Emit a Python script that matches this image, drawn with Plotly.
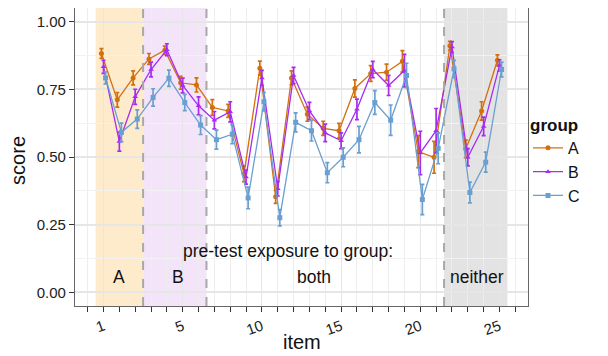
import plotly.graph_objects as go

# ---- data ----
item_pos = list(range(26))
tick_pos = [0, 5, 10, 15, 20, 25]
tick_labels = ["1", "5", "10", "15", "20", "25"]

score_A = [0.882, 0.711, 0.792, 0.862, 0.894, 0.774, 0.766, 0.683, 0.670, 0.438, 0.828, 0.353, 0.792,
           0.658, 0.606, 0.597, 0.753, 0.808, 0.813, 0.853, 0.520, 0.499, 0.911, 0.530, 0.670, 0.857]
score_B = [0.833, 0.557, 0.722, 0.823, 0.896, 0.764, 0.689, 0.636, 0.667, 0.426, 0.792, 0.383, 0.801,
           0.670, 0.589, 0.560, 0.676, 0.823, 0.764, 0.819, 0.515, 0.597, 0.906, 0.499, 0.613, 0.838]
score_C = [0.792, 0.591, 0.640, 0.720, 0.791, 0.701, 0.618, 0.564, 0.584, 0.349, 0.704, 0.276, 0.628,
           0.597, 0.442, 0.499, 0.564, 0.701, 0.636, 0.801, 0.343, 0.532, 0.825, 0.369, 0.481, 0.823]

err_A = [0.018, 0.027, 0.026, 0.020, 0.015, 0.024, 0.026, 0.029, 0.024, 0.029, 0.026, 0.024, 0.026,
         0.026, 0.026, 0.027, 0.032, 0.029, 0.030, 0.040, 0.059, 0.059, 0.016, 0.032, 0.034, 0.020]
err_B = [0.024, 0.035, 0.028, 0.027, 0.022, 0.027, 0.033, 0.032, 0.037, 0.026, 0.028, 0.027, 0.030,
         0.032, 0.032, 0.029, 0.038, 0.030, 0.037, 0.060, 0.080, 0.082, 0.020, 0.032, 0.034, 0.021]
err_C = [0.022, 0.034, 0.034, 0.032, 0.030, 0.030, 0.035, 0.035, 0.035, 0.040, 0.034, 0.030, 0.035,
         0.038, 0.037, 0.035, 0.049, 0.044, 0.056, 0.045, 0.056, 0.057, 0.032, 0.038, 0.037, 0.027]

groups = ["A", "B", "C"]
region_start = [-0.5, 2.5, 21.5]
region_end = [2.5, 6.5, 25.5]
region_colors = ["#FEEBCB", "#F3E4FA", "#E3E3E3"]
divider_pos = [2.5, 6.5, 21.5]

header_text = "pre-test exposure to group:"
header_pos = (11.63, 0.152)
label_text = ["A", "B", "both", "neither"]
label_x = [0.95, 4.7, 13.3, 23.55]
label_y = 0.058

# ---- style ----
colors = {"A": "#D2700E", "B": "#A62CF0", "C": "#6A9FD2"}
symbols = {"A": "circle", "B": "triangle-up", "C": "square"}
dodge = {"A": -0.13, "B": 0.0, "C": 0.13}
FONT = "Liberation Sans, Arial, Helvetica, sans-serif"

fig = go.Figure()

scores = {"A": score_A, "B": score_B, "C": score_C}
errs = {"A": err_A, "B": err_B, "C": err_C}
for g in groups:
    fig.add_trace(go.Scatter(
        x=[p + dodge[g] for p in item_pos], y=scores[g], name=g, mode="lines+markers",
        line=dict(color=colors[g], width=1.3),
        marker=dict(color=colors[g], symbol=symbols[g], size=5),
        error_y=dict(type="data", array=errs[g], visible=True, color=colors[g], thickness=1.7, width=2),
    ))

for s, e, c in zip(region_start, region_end, region_colors):
    fig.add_shape(type="rect", xref="x", yref="paper", x0=s, x1=e, y0=0, y1=1,
                  fillcolor=c, line_width=0, layer="below")
for d in divider_pos:
    fig.add_shape(type="line", xref="x", yref="paper", x0=d, x1=d, y0=0, y1=1,
                  line=dict(color="#A8A8A8", width=2, dash="dash"), layer="above")

fig.add_annotation(x=header_pos[0], y=header_pos[1], text=header_text, showarrow=False,
                   font=dict(family=FONT, size=17.5, color="#111111"))
for t, x in zip(label_text, label_x):
    fig.add_annotation(x=x, y=label_y, text=t, showarrow=False,
                       font=dict(family=FONT, size=17.5, color="#111111"))

# axis titles placed as annotations (pixel-accurate)
fig.add_annotation(xref="paper", yref="paper", x=-0.126, y=0.49, text="score", textangle=-90,
                   xanchor="center", yanchor="middle",
                   showarrow=False, font=dict(family=FONT, size=20, color="#111111"))
fig.add_annotation(xref="paper", yref="paper", x=0.501, y=-0.121, text="item",
                   xanchor="center", yanchor="middle",
                   showarrow=False, font=dict(family=FONT, size=20, color="#111111"))

# page body has an 8px default margin, so the figure is sized/offset to compensate
fig.update_layout(
    width=600, height=348,
    margin=dict(l=67, r=80, t=0, b=50),
    paper_bgcolor="white", plot_bgcolor="white",
    font=dict(family=FONT, color="#222222"),
    xaxis=dict(
        range=[-1.8, 26.8], tickmode="array", tickvals=tick_pos, ticktext=tick_labels,
        tickangle=-20, tickfont=dict(size=15, color="#222222"),
        ticks="outside", ticklen=5, tickcolor="#333333",
        showgrid=True, gridcolor="#E6E6E6", gridwidth=1.2,
        minor=dict(tickmode="array", tickvals=list(range(-1, 27)), ticks="outside", ticklen=5,
                   tickcolor="#333333", showgrid=True, gridcolor="#EDEDED", gridwidth=1),
        showline=True, linecolor="#666666", linewidth=1.2, mirror=True,
        zeroline=False, automargin=False,
    ),
    yaxis=dict(
        range=[-0.05, 1.05], tickmode="array", tickvals=[0, 0.25, 0.5, 0.75, 1.0],
        ticktext=["0.00", "0.25", "0.50", "0.75", "1.00"],
        tickfont=dict(size=15, color="#222222"),
        ticks="outside", ticklen=5, tickcolor="#333333",
        showgrid=True, gridcolor="#E6E6E6", gridwidth=1.5,
        minor=dict(tickmode="array", tickvals=[0.125, 0.375, 0.625, 0.875], ticks="",
                   showgrid=True, gridcolor="#F2F2F2", gridwidth=1),
        showline=True, linecolor="#666666", linewidth=1.2, mirror=True,
        zeroline=False, automargin=False,
    ),
    legend=dict(
        x=1.0, xanchor="left", y=0.487, yanchor="middle",
        title=dict(text="<b>group</b>", font=dict(size=17, color="#111111")),
        font=dict(size=16, color="#111111"),
        bgcolor="rgba(0,0,0,0)", itemwidth=30, tracegroupgap=0,
    ),
    showlegend=True,
)

fig.write_html("out.html")
